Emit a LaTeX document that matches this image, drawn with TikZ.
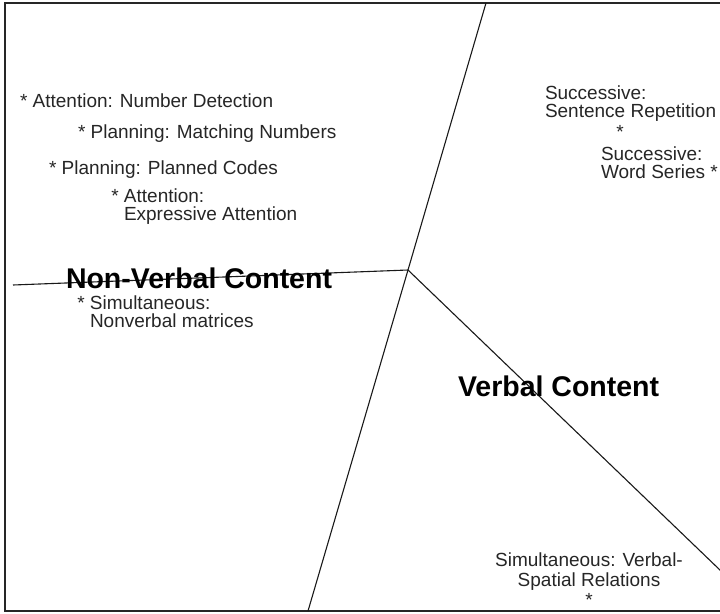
\documentclass[tikz,border=0pt]{standalone}
\usepackage{fontspec}
\setmainfont{Liberation Sans}
\begin{document}
\begin{tikzpicture}[x=1pt,y=-1pt,
  lbl/.style={inner sep=0pt,outer sep=0pt,text=black!85,font=\fontsize{19}{18}\selectfont},
  big/.style={inner sep=0pt,outer sep=0pt,text=black,font=\fontsize{28.5}{30}\selectfont\bfseries},
  frame/.style={draw=black!85,line width=2pt},
  divider/.style={draw=black!90,line width=1.1pt}]
\useasboundingbox (0,0) rectangle (720,613);
% frame
\coordinate (ftr) at (721,3);
\coordinate (ftl) at (5,3);
\coordinate (fbl) at (5,611);
\coordinate (fbr) at (721,611);
\draw[frame] (ftr) -- (ftl) -- (fbl) -- (fbr);
% dividers
\coordinate (c) at (408,270);
\coordinate (top) at (486,3);
\coordinate (bot) at (308,611);
\coordinate (lft) at (13,285);
\coordinate (rgt) at (721,571);
\draw[divider] (top) -- (c) -- (bot);
\draw[divider] (lft) -- (c) -- (rgt);
% texts
\node[lbl,anchor=west] (ad) at (20,101) {* Attention: Number Detection};
\node[lbl,anchor=west] (pm) at (78,134) {* Planning: Matching Numbers};
\node[lbl,anchor=west] (pc) at (49,170) {* Planning: Planned Codes};
\node[lbl,anchor=west,align=left] (ea) at (124,207) {\llap{* }Attention:\\Expressive Attention};
\node[big,anchor=west] (nv) at (66,278) {Non-Verbal Content};
\node[lbl,anchor=west,align=left] (sn) at (90,312) {\llap{* }Simultaneous:\\Nonverbal matrices};
\node[lbl,anchor=west,align=left] (ss) at (545,104) {Successive:\\Sentence Repetition};
\node[lbl,anchor=center] (st1) at (620,132) {*};
\node[lbl,anchor=west,align=left] (ws) at (601,163) {Successive:\\Word Series *};
\node[big,anchor=west] (vc) at (458,386) {Verbal Content};
\node[lbl,anchor=center,align=center,font=\fontsize{19}{20}\selectfont] (sv) at (589,580) {Simultaneous: Verbal-\\Spatial Relations\\*};
\end{tikzpicture}
\end{document}
